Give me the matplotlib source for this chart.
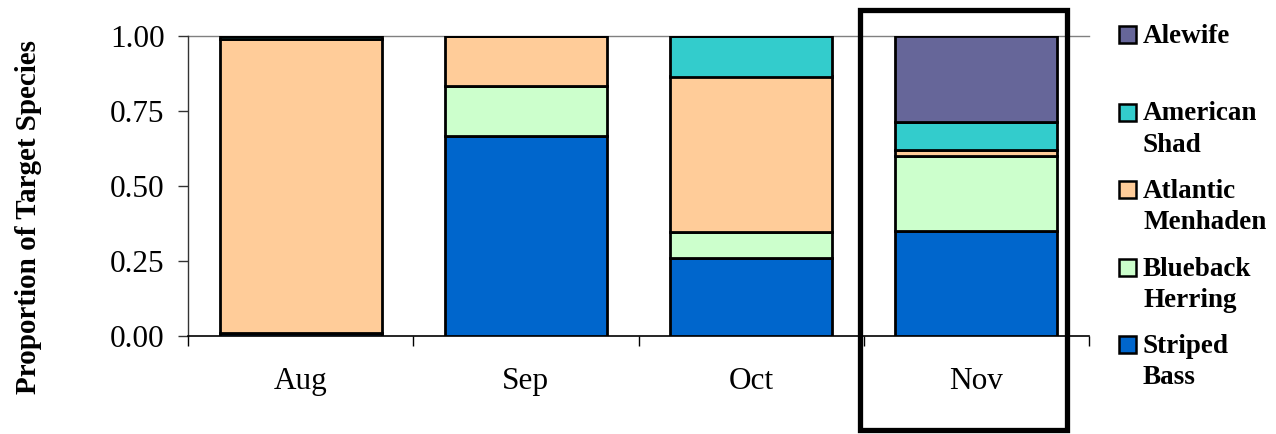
import matplotlib
matplotlib.use("Agg")
import matplotlib.pyplot as plt
from matplotlib.patches import Rectangle
import numpy as np

months = ["Aug", "Sep", "Oct", "Nov"]
species = ["Striped\nBass", "Blueback\nHerring", "Atlantic\nMenhaden", "American\nShad", "Alewife"]
colors = ["#0066CC", "#CCFFCC", "#FFCC99", "#33CCCC", "#666699"]

striped_bass = [0.01, 0.667, 0.26, 0.35]
blueback_herring = [0.0, 0.166, 0.087, 0.25]
atlantic_menhaden = [0.98, 0.167, 0.518, 0.02]
american_shad = [0.01, 0.0, 0.135, 0.095]
alewife = [0.0, 0.0, 0.0, 0.285]
series = [striped_bass, blueback_herring, atlantic_menhaden, american_shad, alewife]

plt.rcParams['font.family'] = ['Liberation Serif', 'DejaVu Serif']

fig = plt.figure(figsize=(12.76, 4.34), dpi=100)
ax = fig.add_axes([188/1276, 1-336/434, (1089-188)/1276, 300/434])

x = np.arange(len(months))
bottom = np.zeros(len(months))
for vals, col in zip(series, colors):
    v = np.array(vals)
    ax.bar(x, v, width=0.72, bottom=bottom, color=col, edgecolor='black', linewidth=2.0, zorder=3)
    bottom += v

ax.set_xlim(-0.5, len(months) - 0.5)
ax.set_ylim(0, 1.0)
ax.set_yticks([0, 0.25, 0.5, 0.75, 1.0])
ax.set_yticklabels([f"{t:.2f}" for t in [0, 0.25, 0.5, 0.75, 1.0]], fontsize=22.5)
ax.set_xticks(x)
ax.set_xticklabels(months, fontsize=22.5)
ax.set_xticks(np.arange(len(months) + 1) - 0.5, minor=True)
ax.tick_params(axis='x', which='major', length=0, pad=22)
ax.tick_params(axis='x', which='minor', length=7, width=1, color='black')
ax.tick_params(axis='y', which='major', length=7, width=1, color='#333333', pad=10)

ax.spines['right'].set_visible(False)
ax.spines['top'].set_color('#808080')
ax.spines['top'].set_linewidth(1)
ax.spines['left'].set_color('#333333')
ax.spines['left'].set_linewidth(1)
ax.spines['bottom'].set_color('black')
ax.spines['bottom'].set_linewidth(1.2)
ax.spines['top'].set_zorder(1)

fig.text(29/1276, 1-217/434, "Proportion of Target Species", rotation=90,
         ha='center', va='center', fontsize=21, fontweight='bold')

# legend drawn manually (top entry first)
W, H = 1276, 434
for i, (lab, col) in enumerate(zip(species[::-1], colors[::-1])):
    base = 43 + i * 77.5
    fig.patches.append(Rectangle((1119/W, 1-base/H), 17/W, 17/H, transform=fig.transFigure,
                                 facecolor=col, edgecolor='black', linewidth=1.8))
    lines = lab.split("\n")
    for j, ln in enumerate(lines):
        fig.text(1143/W, 1-(base + j*31.5)/H, ln, ha='left', va='baseline',
                 fontsize=19.5, fontweight='bold')

# highlight box around Nov
fig.patches.append(Rectangle((860/W, 1-430/H), (1067-860)/W, (430-10)/H, transform=fig.transFigure,
                             facecolor='none', edgecolor='black', linewidth=3.8, zorder=10))

fig.savefig("out.png", dpi=100)
